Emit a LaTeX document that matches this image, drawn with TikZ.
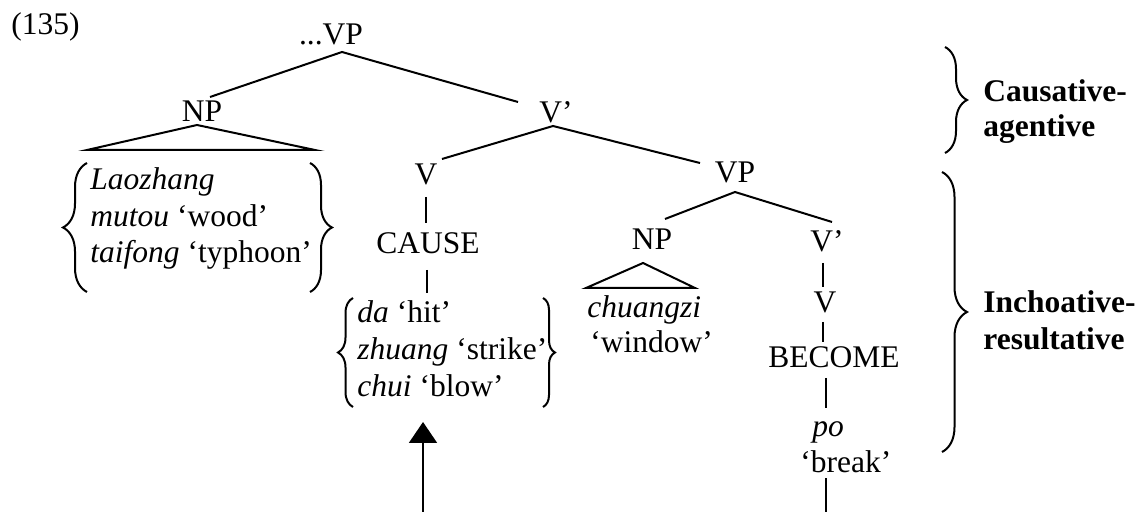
\documentclass[tikz,border=0pt]{standalone}
\usepackage{fontspec}
\setmainfont{Liberation Serif}
\usetikzlibrary{arrows.meta,decorations.pathreplacing}
\begin{document}
\begin{tikzpicture}[x=0.5pt,y=-0.5pt,
  lab/.style={inner sep=0pt,anchor=base,font=\fontsize{15.75pt}{18.25pt}\selectfont},
  labw/.style={lab,anchor=base west},
  edge/.style={line width=1pt},
  brc/.style={line width=1pt,decorate,decoration={brace,amplitude=#1}},
]
\useasboundingbox (0,0) rectangle (1139,512);
% labels
\node[labw] (ex) at (11,35) {(135)};
\node[lab] (VP1) at (331,45) {...VP};
\node[lab] (NP1) at (202,122) {NP};
\node[lab] (Vb1) at (556,123) {V’};
\node[lab] (V1) at (426,185) {V};
\node[lab] (CAUSE) at (428,254) {CAUSE};
\node[lab] (VP2) at (735,183) {VP};
\node[lab] (NP2) at (652,250) {NP};
\node[lab] (Vb2) at (827,252) {V’};
\node[lab] (V2) at (825,313) {V};
\node[lab] (BECOME) at (834,368) {BECOME};
\node[labw] (po) at (812,437) {\textit{po}};
\node[labw] (brk) at (800,473) {‘break’};
% subject block
\node[labw] (s1) at (90,190) {\textit{Laozhang}};
\node[labw] (s2) at (90,227) {\textit{mutou} ‘wood’};
\node[labw] (s3) at (90,263) {\textit{taifong} ‘typhoon’};
% cause block
\node[labw] (c1) at (357,323) {\textit{da} ‘hit’};
\node[labw] (c2) at (357,360) {\textit{zhuang} ‘strike’};
\node[labw] (c3) at (357,397) {\textit{chui} ‘blow’};
% object
\node[labw] (o1) at (587,318) {\textit{chuangzi}};
\node[labw] (o2) at (590,353) {‘window’};
% right labels
\node[labw,font=\fontsize{15.75pt}{18.25pt}\selectfont\bfseries] (r1) at (983,102) {Causative-};
\node[labw,font=\fontsize{15.75pt}{18.25pt}\selectfont\bfseries] (r2) at (983,137) {agentive};
\node[labw,font=\fontsize{15.75pt}{18.25pt}\selectfont\bfseries] (r3) at (983,313) {Inchoative-};
\node[labw,font=\fontsize{15.75pt}{18.25pt}\selectfont\bfseries] (r4) at (983,350) {resultative};
% branch points
\coordinate (vp1b) at (342,52);
\coordinate (np1t) at (210,97);
\coordinate (vb1t) at (518,102);
\coordinate (np1a) at (197,125);
\coordinate (np1l) at (87,150);
\coordinate (np1r) at (315,150);
\coordinate (vb1b) at (553,126);
\coordinate (v1t) at (442,159);
\coordinate (vp2t) at (700,163);
\coordinate (v1b) at (426,197);
\coordinate (caut) at (426,223);
\coordinate (caub) at (427,270);
\coordinate (c1t) at (427,293);
\coordinate (vp2b) at (735,192);
\coordinate (np2t) at (665,219);
\coordinate (vb2t) at (832,222);
\coordinate (np2a) at (643,263);
\coordinate (np2l) at (586,288);
\coordinate (np2r) at (695,288);
\coordinate (vb2b) at (823,263);
\coordinate (v2t) at (823,287);
\coordinate (v2b) at (823,322);
\coordinate (bect) at (823,342);
\coordinate (becb) at (826,378);
\coordinate (pot) at (826,408);
\coordinate (brkb) at (826,478);
\coordinate (brkend) at (826,512);
\coordinate (arrs) at (423,512);
\coordinate (arre) at (423,422);
% tree edges
\draw[edge] (np1t) -- (vp1b) -- (vb1t);
\draw[edge] (np1l) -- (np1a) -- (np1r) -- cycle;
\draw[edge] (v1t) -- (vb1b) -- (vp2t);
\draw[edge] (v1b) -- (caut);
\draw[edge] (caub) -- (c1t);
\draw[edge] (np2t) -- (vp2b) -- (vb2t);
\draw[edge] (np2l) -- (np2a) -- (np2r) -- cycle;
\draw[edge] (vb2b) -- (v2t);
\draw[edge] (v2b) -- (bect);
\draw[edge] (becb) -- (pot);
\draw[edge] (brkb) -- (brkend);
\draw[edge,-{Triangle[width=14pt,length=10.5pt]}] (arrs) -- (arre);
% braces
\draw[brc=12pt] (87,292) -- (87,163);
\draw[brc=11pt] (310,163) -- (310,292);
\draw[brc=7.5pt] (353,407) -- (353,298);
\draw[brc=6pt] (543,298) -- (543,407);
\draw[brc=11pt] (945,47) -- (945,153);
\draw[brc=12.5pt] (942,172) -- (942,452);
\end{tikzpicture}
\end{document}
